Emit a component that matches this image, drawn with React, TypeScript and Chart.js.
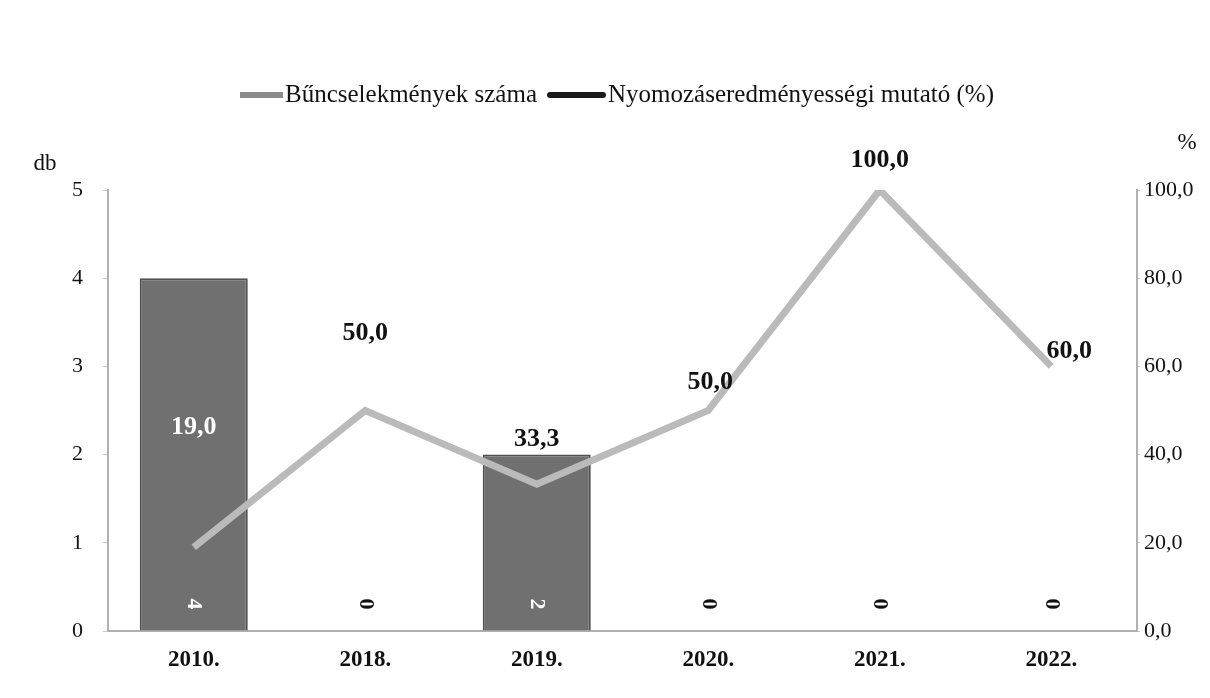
import React, { useEffect, useRef } from "react";
import { Chart, registerables } from "chart.js";

Chart.register(...registerables);

const categories = ["2010.", "2018.", "2019.", "2020.", "2021.", "2022."];
const crimeCounts = [4, 0, 2, 0, 0, 0];
const clearanceRates = [19.0, 50.0, 33.3, 50.0, 100.0, 60.0];
const leftTicks = [0, 1, 2, 3, 4, 5];
const rightTicks = [0, 20, 40, 60, 80, 100];
const barName = "Bűncselekmények száma";
const lineName = "Nyomozáseredményességi mutató (%)";

// label offsets (style only) for the line value labels
const lineLabelOffsets: [number, number][] = [
  [0, -120],
  [0, -77],
  [0, -45],
  [2, -28],
  [0, -30],
  [18, -15],
];
const lineLabelColors = ["#ffffff", "#111", "#111", "#111", "#111", "#111"];

const FONT = "'Liberation Serif', 'Times New Roman', serif";
const fmt = (v: number) => v.toFixed(1).replace(".", ",");

const overlayPlugin = {
  id: "overlay",
  afterDatasetsDraw(chart: any) {
    const ctx = chart.ctx;
    ctx.save();
    // bar value labels (rotated)
    const barMeta = chart.getDatasetMeta(1);
    const y0 = chart.scales.y.getPixelForValue(0);
    barMeta.data.forEach((el: any, i: number) => {
      const v = crimeCounts[i];
      ctx.save();
      ctx.translate(el.x, y0 - 27);
      ctx.rotate(Math.PI / 2);
      ctx.font = `bold 22px ${FONT}`;
      ctx.fillStyle = v > 0 ? "#ffffff" : "#111";
      ctx.textAlign = "center";
      ctx.textBaseline = "middle";
      ctx.fillText(String(v), 0, 0);
      ctx.restore();
    });
    // line value labels
    const lineMeta = chart.getDatasetMeta(0);
    lineMeta.data.forEach((pt: any, i: number) => {
      const [dx, dy] = lineLabelOffsets[i];
      ctx.font = `bold 26px ${FONT}`;
      ctx.fillStyle = lineLabelColors[i];
      ctx.textAlign = "center";
      ctx.textBaseline = "middle";
      ctx.fillText(fmt(clearanceRates[i]), pt.x + dx, pt.y + dy);
    });
    ctx.restore();
  },
  afterDraw(chart: any) {
    const ctx = chart.ctx;
    ctx.save();
    // axis unit labels
    ctx.font = `23px ${FONT}`;
    ctx.fillStyle = "#111";
    ctx.textAlign = "center";
    ctx.textBaseline = "middle";
    ctx.fillText("db", 45, 164);
    ctx.fillText("%", 1187, 143);

    // legend
    ctx.font = `25px ${FONT}`;
    const w1 = ctx.measureText(barName).width;
    const w2 = ctx.measureText(lineName).width;
    const sw1 = 43;
    const sw2 = 59;
    const total = sw1 + 2 + w1 + 10 + sw2 + 2 + w2;
    let x = 617 - total / 2;
    const ly = 95;
    ctx.fillStyle = "#8a8a8a";
    ctx.fillRect(x, ly - 3, sw1, 6);
    x += sw1 + 2;
    ctx.fillStyle = "#111";
    ctx.textAlign = "left";
    ctx.fillText(barName, x, ly);
    x += w1 + 10;
    ctx.strokeStyle = "#1a1a1a";
    ctx.lineWidth = 6;
    ctx.lineCap = "round";
    ctx.beginPath();
    ctx.moveTo(x + 3, ly);
    ctx.lineTo(x + sw2 - 3, ly);
    ctx.stroke();
    x += sw2 + 2;
    ctx.fillText(lineName, x, ly);
    ctx.restore();
  },
};

export default function App() {
  const ref = useRef<HTMLCanvasElement | null>(null);
  useEffect(() => {
    document.body.style.margin = "0";
    document.body.style.background = "#ffffff";
    const chart = new Chart(ref.current as HTMLCanvasElement, {
      type: "bar",
      data: {
        labels: categories,
        datasets: [
          {
            type: "line",
            label: lineName,
            data: clearanceRates,
            yAxisID: "y2",
            borderColor: "#bababa",
            borderWidth: 7,
            pointRadius: 0,
            tension: 0,
            order: 0,
          } as any,
          {
            type: "bar",
            label: barName,
            data: crimeCounts,
            yAxisID: "y",
            backgroundColor: "#707070",
            borderColor: "#505050",
            borderWidth: 2,
            barPercentage: 0.9,
            categoryPercentage: 0.7,
            order: 1,
          } as any,
        ],
      },
      options: {
        animation: false,
        responsive: true,
        maintainAspectRatio: false,
        layout: { padding: { top: 190, left: 0, right: 0, bottom: 0 } },
        plugins: {
          legend: { display: false },
          tooltip: { enabled: false },
        },
        scales: {
          x: {
            grid: { drawOnChartArea: false, drawTicks: false },
            border: { display: true, color: "#b0b0b0", width: 2 },
            ticks: {
              font: { family: FONT, size: 23, weight: "bold" },
              color: "#111",
              padding: 15,
            },
            afterFit: (s: any) => {
              s.height = 67;
            },
          },
          y: {
            position: "left",
            min: 0,
            max: 5,
            afterBuildTicks: (s: any) => {
              s.ticks = leftTicks.map((v) => ({ value: v }));
            },
            grid: {
              drawOnChartArea: false,
              drawTicks: true,
              tickLength: 5,
              color: "#c8c8c8",
            },
            border: { display: true, color: "#b0b0b0", width: 2 },
            ticks: {
              font: { family: FONT, size: 22 },
              color: "#111",
              padding: 20,
            },
            afterFit: (s: any) => {
              s.width = 108;
            },
          },
          y2: {
            position: "right",
            min: 0,
            max: 100,
            afterBuildTicks: (s: any) => {
              s.ticks = rightTicks.map((v) => ({ value: v }));
            },
            grid: {
              drawOnChartArea: false,
              drawTicks: true,
              tickLength: 3,
              color: "#c8c8c8",
            },
            border: { display: true, color: "#b0b0b0", width: 2 },
            ticks: {
              font: { family: FONT, size: 22 },
              color: "#111",
              padding: 4,
              callback: (v: any) => fmt(Number(v)),
            },
            afterFit: (s: any) => {
              s.width = 73;
            },
          },
        },
      } as any,
      plugins: [overlayPlugin],
    });
    return () => chart.destroy();
  }, []);
  return (
    <div style={{ position: "fixed", left: 0, top: 0, width: 1210, height: 698, background: "#fff" }}>
      <canvas ref={ref} />
    </div>
  );
}
